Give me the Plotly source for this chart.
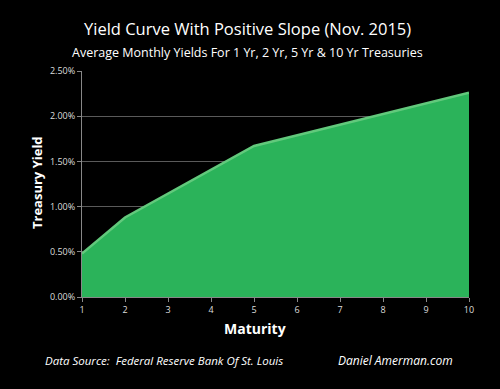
import plotly.graph_objects as go

maturity = [1, 2, 5, 10]
yields = [0.48, 0.88, 1.67, 2.26]
y_ticks = [0.0, 0.5, 1.0, 1.5, 2.0, 2.5]
y_tick_labels = ["0.00%", "0.50%", "1.00%", "1.50%", "2.00%", "2.50%"]
x_ticks = list(range(1, 11))

FONT = "Open Sans"
L, R, T, B = 82, 31, 71, 92
W, H = 500, 389

fig = go.Figure()
fig.add_trace(go.Scatter(
    x=maturity, y=yields, mode="lines", fill="tozeroy",
    fillcolor="#2bb35a", line=dict(color="#62c97c", width=2.5),
    hoverinfo="skip", showlegend=False))


def ann(text, px, py, size, xanchor="center", angle=0):
    return dict(text=text, x=(px - L) / (W - L - R), y=(H - B - py) / (H - T - B),
                xref="paper", yref="paper", xanchor=xanchor, yanchor="middle",
                showarrow=False, textangle=angle,
                font=dict(size=size, color="white", family=FONT))


fig.update_layout(
    width=W, height=H,
    paper_bgcolor="black", plot_bgcolor="black",
    margin=dict(l=L, r=R, t=T, b=B),
    font=dict(family=FONT, color="white"),
    xaxis=dict(range=[1, 10], tickvals=x_ticks, showgrid=False, zeroline=False,
               ticks="outside", tickcolor="#888", ticklen=4,
               showline=True, linecolor="#888", linewidth=1,
               tickfont=dict(size=9, color="#dddddd")),
    yaxis=dict(range=[0, 2.5], tickvals=y_ticks, ticktext=y_tick_labels,
               showgrid=True, gridcolor="#5a5a5a", gridwidth=1, zeroline=False,
               ticks="outside", tickcolor="#888", ticklen=4,
               showline=True, linecolor="#888", linewidth=1,
               tickfont=dict(size=9, color="#dddddd")),
    annotations=[
        ann("Yield Curve With Positive Slope (Nov. 2015)", 247, 29, 16.5),
        ann("Average Monthly Yields For 1 Yr, 2 Yr, 5 Yr &amp; 10 Yr Treasuries", 247, 52, 12.5),
        ann("<b>Treasury Yield</b>", 37, 183, 13, angle=-90),
        ann("<b>Maturity</b>", 255, 328, 14),
        ann("<i>Data Source:  Federal Reserve Bank Of St. Louis</i>", 43, 360, 11.5, xanchor="left"),
        ann("<i>Daniel Amerman.com</i>", 336, 360, 12, xanchor="left"),
    ],
)

fig.write_html("out.html", config={"displayModeBar": False},
               post_script="document.body.style.margin='0';document.body.style.padding='0';")
